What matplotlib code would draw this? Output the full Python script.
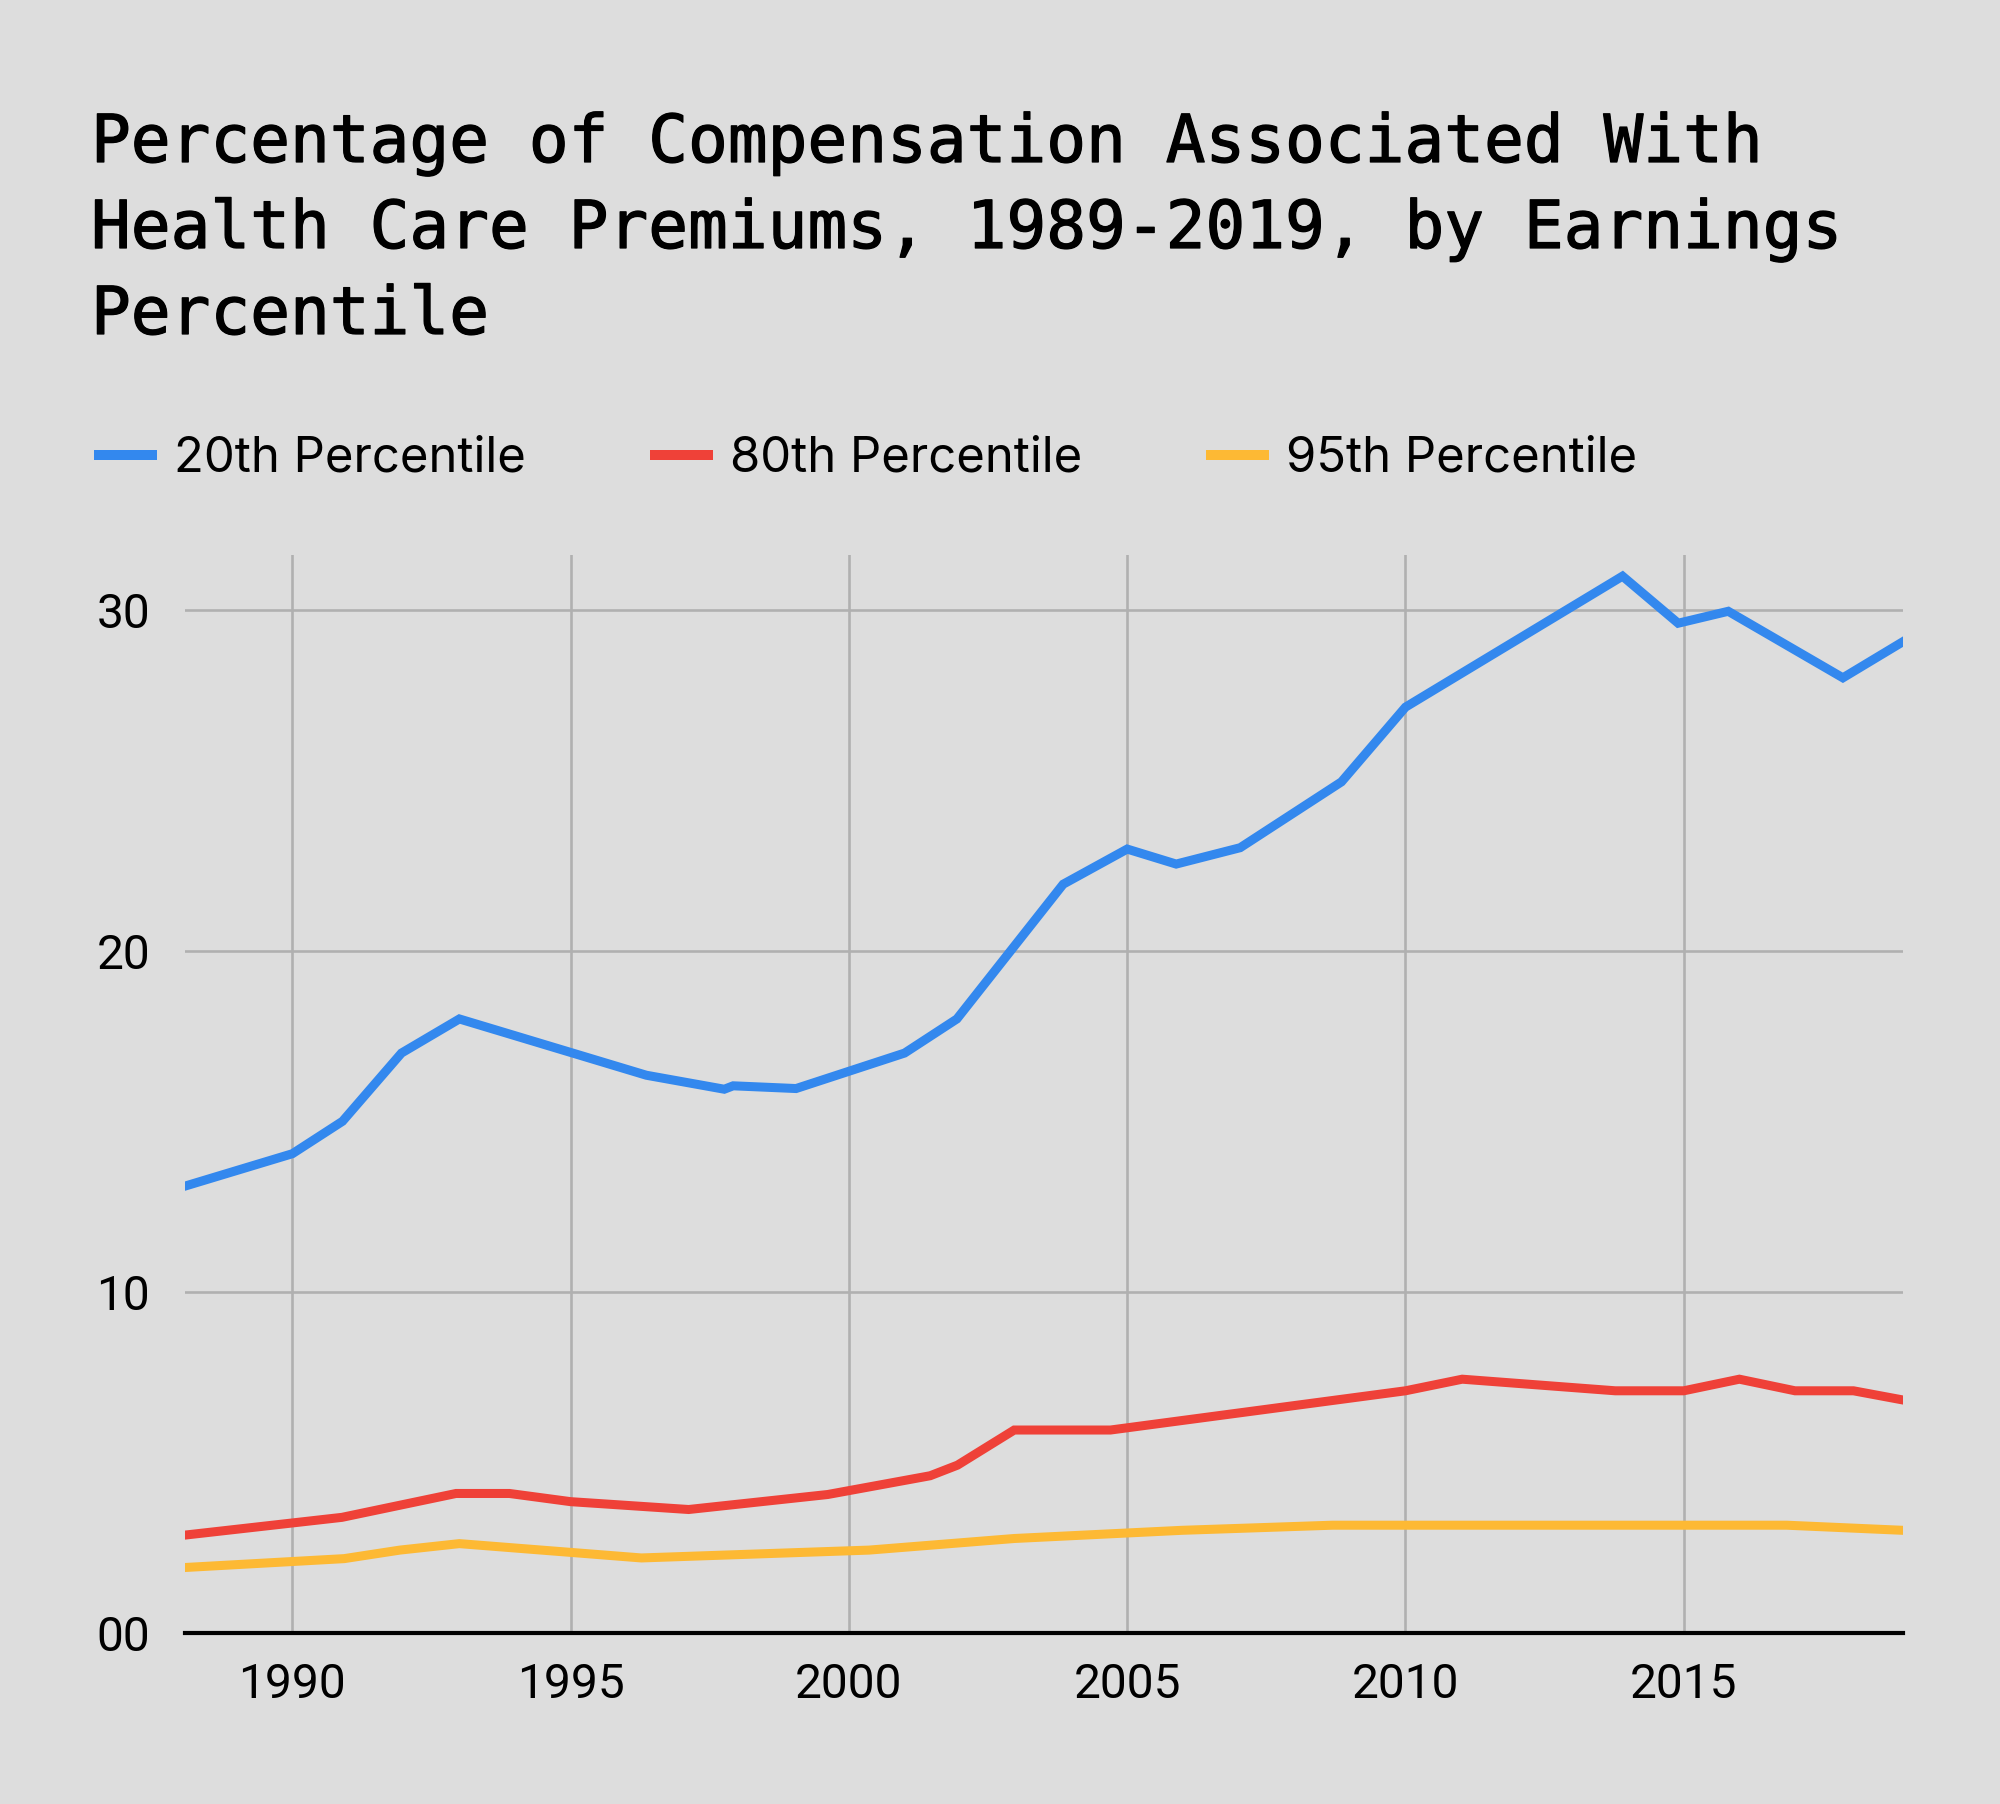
import matplotlib.pyplot as plt
import matplotlib.patheffects as pe
from matplotlib.lines import Line2D

# values
title_lines = [
    "Percentage of Compensation Associated With",
    "Health Care Premiums, 1989-2019, by Earnings",
    "Percentile",
]
series_names = ["20th Percentile", "80th Percentile", "95th Percentile"]
series_colors = ["#3388EE", "#EF4138", "#FDB934"]

x_20 = [1988.07, 1990.0, 1990.9, 1991.96, 1993.0, 1996.36, 1997.76, 1997.92,
        1999.05, 2001.0, 2001.94, 2003.85, 2005.0, 2005.88, 2007.03, 2008.85,
        2010.0, 2013.9, 2014.9, 2015.8, 2017.86, 2018.95]
y_20 = [13.1, 14.05, 15.0, 17.0, 18.0, 16.35, 15.94, 16.04,
        15.96, 17.0, 18.0, 21.95, 22.98, 22.54, 23.02, 24.95,
        27.14, 30.98, 29.6, 29.95, 28.0, 29.07]

x_80 = [1988.07, 1990.89, 1992.94, 1993.9, 1995.0, 1997.12, 1999.62, 2001.46,
        2001.95, 2002.97, 2004.7, 2010.0, 2011.02, 2013.77, 2015.0, 2016.0,
        2017.0, 2018.05, 2018.94]
y_80 = [2.87, 3.39, 4.09, 4.09, 3.85, 3.62, 4.06, 4.61,
        4.92, 5.95, 5.95, 7.1, 7.44, 7.1, 7.1, 7.44,
        7.1, 7.1, 6.83]

x_95 = [1988.07, 1990.93, 1991.93, 1993.0, 1996.27, 2000.36, 2002.97, 2005.98,
        2008.69, 2016.85, 2018.94]
y_95 = [1.92, 2.18, 2.43, 2.62, 2.2, 2.43, 2.77, 3.01,
        3.16, 3.16, 3.01]

x_ticks = [1990, 1995, 2000, 2005, 2010, 2015]
y_ticks = [0, 10, 20, 30]
y_tick_labels = ["00", "10", "20", "30"]

W, H = 2000, 1804
bg = "#DDDDDD"
grid_col = "#B0B0B0"

fig = plt.figure(figsize=(W / 100, H / 100), dpi=100, facecolor=bg)

def fx(px):
    return px / W

def fy(py):
    return 1 - py / H

ax = fig.add_axes([fx(185), fy(1633), fx(1903) - fx(185), fy(555) - fy(1633)])
ax.set_facecolor(bg)

for xs, ys, c in [(x_20, y_20, series_colors[0]),
                  (x_80, y_80, series_colors[1]),
                  (x_95, y_95, series_colors[2])]:
    ax.plot(xs, ys, color=c, lw=6.5, solid_joinstyle="miter", zorder=3)

ax.set_xlim(1988.07, 2018.94)
ax.set_ylim(0, 31.6)
ax.set_xticks(x_ticks)
ax.set_yticks(y_ticks)
ax.set_yticklabels(y_tick_labels)
ax.grid(True, color=grid_col, lw=1.9, zorder=1)
for s in ["top", "right", "left"]:
    ax.spines[s].set_visible(False)
ax.spines["bottom"].set_color("black")
ax.spines["bottom"].set_linewidth(3)
ax.spines["bottom"].set_zorder(4)
ax.tick_params(length=0, labelsize=34.5, labelcolor="black")
ax.tick_params(axis="x", pad=21)
ax.tick_params(axis="y", pad=25)
for lab in ax.get_xticklabels() + ax.get_yticklabels():
    lab.set_family("Roboto")

# title, one line at a time (thin stroke to get a medium weight)
for i, line in enumerate(title_lines):
    fig.text(fx(91), fy(162 + i * 86), line, family="DejaVu Sans Mono",
             fontsize=47.6, color="black", va="baseline", ha="left",
             path_effects=[pe.withStroke(linewidth=0.9, foreground="black")])

# legend drawn by hand
leg_x = [94, 650, 1206]
for lx, name, c in zip(leg_x, series_names, series_colors):
    fig.add_artist(Line2D([fx(lx), fx(lx + 63)], [fy(455), fy(455)],
                          color=c, lw=7.2, solid_capstyle="butt"))
    fig.text(fx(lx + 80), fy(471), name, family="Inter", fontsize=35.3,
             color="black", va="baseline", ha="left")

fig.savefig("out.png", dpi=100, facecolor=bg)
